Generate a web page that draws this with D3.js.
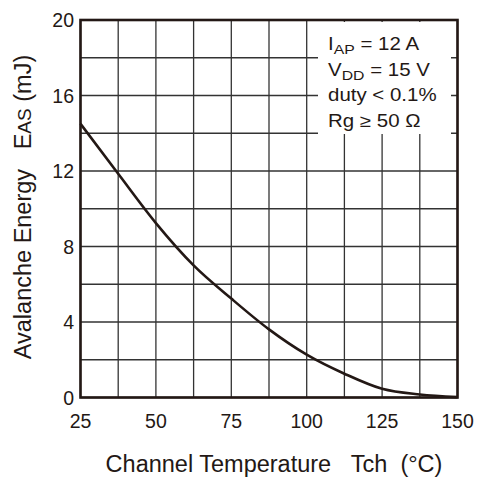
<!DOCTYPE html>
<html>
<head>
<meta charset="utf-8">
<script src="https://cdn.jsdelivr.net/npm/d3@7"></script>
<style>
  body { margin: 0; background: #fff; }
  text { font-family: "Liberation Sans", Arial, sans-serif; fill: #231815; }
</style>
</head>
<body>
<div id="chart"></div>
<script>
// channel temperature (°C) vs avalanche energy (mJ)
var temps  = [25, 37.5, 50, 62.5, 75, 87.5, 100, 112.5, 125, 137.5, 150];
var energy = [14.5, 11.85, 9.24, 7.0, 5.24, 3.61, 2.27, 1.26, 0.46, 0.16, 0.02];
var xTicks = [25, 50, 75, 100, 125, 150];
var yTicks = [0, 4, 8, 12, 16, 20];
var notes  = [["I", "AP", " = 12 A"], ["V", "DD", " = 15 V"], ["duty < 0.1%", "", ""], ["Rg \u2265 50 \u03A9", "", ""]];

var W = 478, H = 480;
var plot = {left: 80.5, right: 457.5, top: 20, bottom: 397.5};

var svg = d3.select("#chart").append("svg")
            .attr("width", W)
            .attr("height", H);

var x = d3.scaleLinear().domain([25, 150]).range([plot.left, plot.right]);
var y = d3.scaleLinear().domain([0, 20]).range([plot.bottom, plot.top]);

// grid, every 12.5 °C and every 2 mJ
var grid = svg.append("g").classed("grid", true);
grid.selectAll(".vgrid")
    .data(d3.range(25, 150.1, 12.5))
    .enter().append("line")
      .attr("x1", function(d) { return x(d); })
      .attr("x2", function(d) { return x(d); })
      .attr("y1", y(0)).attr("y2", y(20))
      .attr("stroke", "#333").attr("stroke-width", 1.3);
grid.selectAll(".hgrid")
    .data(d3.range(0, 20.1, 2))
    .enter().append("line")
      .attr("x1", x(25)).attr("x2", x(150))
      .attr("y1", function(d) { return y(d); })
      .attr("y2", function(d) { return y(d); })
      .attr("stroke", "#333").attr("stroke-width", 1.3);

// white box behind the conditions
svg.append("rect")
   .attr("x", 318).attr("y", 22)
   .attr("width", 133).attr("height", 112)
   .attr("fill", "#fff");

// frame
svg.append("rect")
   .attr("x", plot.left).attr("y", plot.top)
   .attr("width", plot.right - plot.left).attr("height", plot.bottom - plot.top)
   .attr("fill", "none")
   .attr("stroke", "#231815")
   .attr("stroke-width", 2.6);

// curve
var line = d3.line()
  .x(function(d, i) { return x(temps[i]); })
  .y(function(d) { return y(d); })
  .curve(d3.curveMonotoneX);

svg.append("path")
   .attr("d", line(energy))
   .attr("fill", "none")
   .attr("stroke", "#231815")
   .attr("stroke-width", 2.6);

// tick labels
svg.selectAll(".xlab")
   .data(xTicks)
   .enter().append("text")
     .attr("x", function(d) { return x(d); })
     .attr("y", 428)
     .attr("text-anchor", "middle")
     .style("font-size", "19.5px")
     .text(function(d) { return d; });

svg.selectAll(".ylab")
   .data(yTicks)
   .enter().append("text")
     .attr("x", 74)
     .attr("y", function(d) { return y(d) + 7; })
     .attr("text-anchor", "end")
     .style("font-size", "19.5px")
     .text(function(d) { return d; });

// axis titles
svg.append("text")
   .attr("x", 274).attr("y", 472)
   .attr("text-anchor", "middle")
   .style("font-size", "23.5px")
   .text("Channel Temperature\u00A0\u00A0\u00A0Tch\u00A0\u00A0(\u00B0C)");

var yt = svg.append("text")
   .attr("transform", "translate(31 207) rotate(-90)")
   .attr("text-anchor", "middle")
   .style("font-size", "23.5px");
yt.append("tspan").text("Avalanche Energy\u00A0\u00A0\u00A0E");
yt.append("tspan").style("font-size", "19px").text("AS");
yt.append("tspan").text("\u00A0(mJ)");

// test conditions
var ng = svg.append("g").attr("transform", "translate(328 0) scale(1.17 1)");
notes.forEach(function(n, i) {
  var t = ng.append("text")
    .attr("x", 0)
    .attr("y", 50 + i * 25.6)
    .style("font-size", "17.5px");
  t.append("tspan").text(n[0]);
  if (n[1]) {
    t.append("tspan").attr("dy", 4).style("font-size", "13.5px").text(n[1]);
    t.append("tspan").attr("dy", -4).text(n[2]);
  }
});
</script>
</body>
</html>
